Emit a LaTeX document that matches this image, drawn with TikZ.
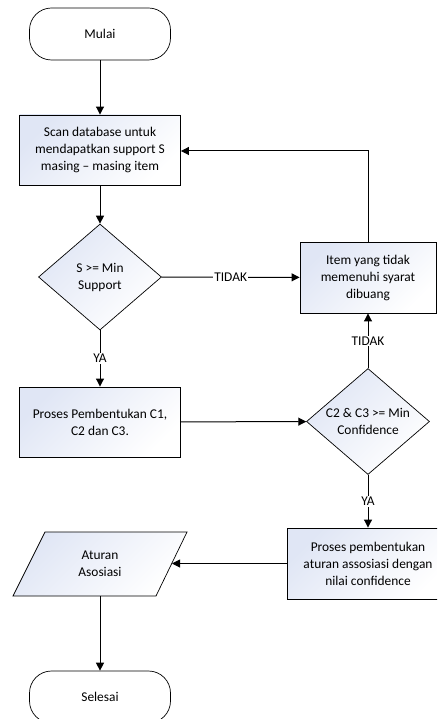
\documentclass[tikz,border=0pt]{standalone}
\usepackage{fontspec}
\setmainfont{Carlito}
\usetikzlibrary{shapes.geometric,arrows.meta}
\definecolor{fillA}{RGB}{224,230,245}
\tikzset{
  x=1pt,y=-1pt,
  every node/.style={font=\fontsize{13.4}{17}\selectfont, align=center},
  shadefill/.style={left color=fillA, right color=white, shading angle=45},
  procbox/.style={draw=black, line width=0.9pt, shadefill, minimum width=161pt, minimum height=70pt, inner sep=0pt},
  term/.style={draw=black, line width=0.7pt, fill=white, rounded corners=22pt, minimum width=141pt, minimum height=52pt, inner sep=0pt},
  decis/.style={draw=black, line width=0.7pt, shadefill, diamond, minimum width=123pt, minimum height=106pt, inner sep=0pt, aspect=1.16},
  conn/.style={line width=1pt, draw=black, -{Triangle[length=8pt,width=8pt]}},
  lab/.style={fill=white, inner sep=1pt}
}
\begin{document}
\begin{tikzpicture}
\useasboundingbox (0,0) rectangle (437,719);
\clip (0,0) rectangle (437,719);
\node[term] (start) at (100,34) {Mulai};
\node[procbox] (scan) at (100,150) {Scan database untuk\\mendapatkan support S\\masing – masing item};
\node[decis] (d1) at (100,277) {S >= Min\\Support};
\node[procbox, minimum width=136pt, minimum height=71pt] (item) at (368,277.5) {Item yang tidak\\memenuhi syarat\\dibuang};
\node[procbox] (c123) at (100,422) {Proses Pembentukan C1,\\C2 dan C3.};
\node[decis] (d2) at (368,421.5) {C2 \& C3 >= Min\\Confidence};
\node[procbox, minimum width=162pt, minimum height=71pt] (rule) at (368,563.5) {Proses pembentukan\\aturan assosiasi dengan\\nilai confidence};
% parallelogram
\draw[line width=0.7pt, shadefill] (45,532) -- (187,532) -- (156,596) -- (13,596) -- cycle;
\node (out) at (100,564) {Aturan\\Asosiasi};
\coordinate (outR) at (172,563.5);
\coordinate (outB) at (100,596);
\node[term] (stop) at (100,697) {Selesai};
% connectors
\draw[conn] (start) -- (scan);
\draw[conn] (scan) -- (d1);
\draw[conn] (d1) -- node[lab] {TIDAK} (item);
\coordinate (up) at (368,151);
\draw[conn] (item.north) |- (scan.east |- up);
\draw[conn] (d1) -- node[lab, pos=0.5] {YA} (c123);
\draw[conn] (c123) -- (d2);
\draw[conn] (d2) -- node[lab] {TIDAK} (item);
\draw[conn] (d2) -- node[lab] {YA} (rule);
\draw[conn] (rule.west) -- (outR);
\draw[conn] (outB) -- (stop);
\end{tikzpicture}
\end{document}
